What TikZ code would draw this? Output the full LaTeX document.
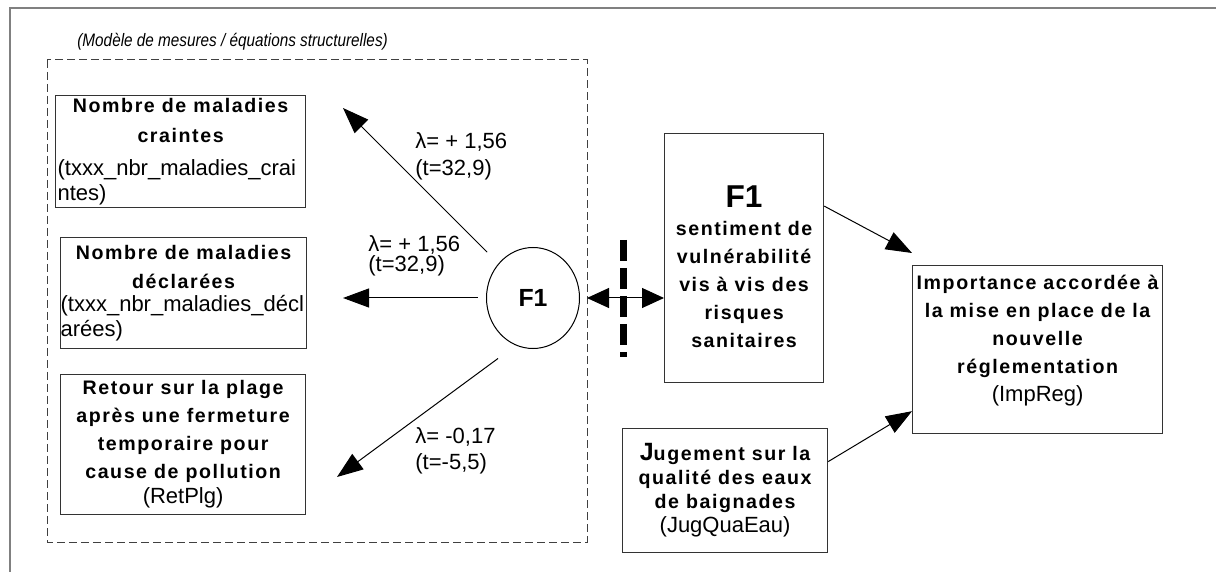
\documentclass[tikz,border=0pt]{standalone}
\usepackage{fontspec}
\setmainfont{Liberation Sans}
\newfontfamily\spaced[LetterSpace=8]{Liberation Sans}
\newfontfamily\narrow[FakeStretch=0.85]{Liberation Sans}
\usetikzlibrary{arrows.meta,shapes.geometric}

\newcommand{\bsp}{\spaced\bfseries\fontsize{9.8}{14}\selectfont}
\newcommand{\rsm}{\normalfont\fontsize{11}{13}\selectfont}
\newcommand{\itsm}{\narrow\itshape\fontsize{9}{10}\selectfont}
\newcommand{\reg}[1]{{\rsm #1}}
\newcommand{\regl}[1]{\makebox[123pt][l]{\rsm #1}}

\begin{document}
\begin{tikzpicture}[x=0.5pt,y=-0.5pt]
	\path [use as bounding box] (0,0) rectangle (1216,572);
	\tikzstyle{every node} = [inner sep=0pt]
	\tikzstyle{box} = [draw=black!80, line width=0.6pt, align=center, font=\bsp]
	\tikzstyle{load} = [-{Triangle[length=13pt,width=9.5pt]}, line width=0.5pt]
	\tikzstyle{both} = [{Triangle[length=11pt,width=10pt]}-{Triangle[length=11pt,width=10pt]}, line width=0.5pt]
	\tikzstyle{lam} = [anchor=north west, align=left, font=\rsm]
	\draw [line width=0.9pt, black!50] (10,600) |- (1240,8);
	\node [anchor=west, font=\itsm] (titre) at (77,42) {(Modèle de mesures / équations structurelles)};
	\draw [black!75, line width=0.5pt, dash pattern=on 4pt off 2pt] (47,60) rectangle (587,542);
	% measures
	\node [box, anchor=north west, minimum width=125pt, minimum height=56pt] (craintes) at (55,95)
		{Nombre de maladies\\[1pt]craintes\\[2.5pt]\regl{(txxx\_nbr\_maladies\_crai}\\[-1.5pt]\regl{ntes)}};
	\node [box, anchor=north west, minimum width=122.5pt, minimum height=55.5pt] (declarees) at (60,237)
		{Nombre de maladies\\[0.5pt]déclarées\\[-2.5pt]\regl{(txxx\_nbr\_maladies\_décl}\\[-1.5pt]\regl{arées)}};
	\node [box, anchor=north west, minimum width=122.5pt, minimum height=70pt] (retour) at (60,374)
		{Retour sur la plage\\après une fermeture\\temporaire pour\\cause de pollution\\[-1.5pt]\reg{(RetPlg)}};
	\node [draw, ellipse, line width=0.5pt, minimum width=46.5pt, minimum height=50.5pt,
		font=\normalfont\bfseries\fontsize{12.4}{14}\selectfont] (circ) at (533,298) {F1};
	\coordinate (tipA) at (343,108);
	\coordinate (tipB) at (343,298);
	\coordinate (tipC) at (337,477);
	\draw [load, shorten <=8pt] (circ.135) -- (tipA);
	\draw [load, shorten <=4.25pt] (circ.west) -- (tipB);
	\draw [load, shorten <=11pt] (circ.250) -- (tipC);
	\node [lam] (lamA) at (415,132) {λ= + 1,56\\[0.5pt](t=32,9)};
	\node [lam] (lamB) at (368,235) {λ= + 1,56\\[-3pt](t=32,9)};
	\node [lam] (lamC) at (415,427) {λ= -0,17\\(t=-5,5)};
	% structural part
	\node [box, anchor=north west, minimum width=79.5pt, minimum height=124.5pt] (sent) at (664,133)
		{\rule{0pt}{19pt}{\normalfont\bfseries\fontsize{15.8}{18}\selectfont F1}\\sentiment de\\vulnérabilité\\vis à vis des\\risques\\sanitaires};
	\node [box, anchor=north west, minimum width=125pt, minimum height=84pt] (imp) at (912,265)
		{Importance accordée à\\la mise en place de la\\nouvelle\\réglementation\\\reg{(ImpReg)}\rule[-11pt]{0pt}{0pt}};
	\node [box, anchor=north west, minimum width=102.5pt, minimum height=62pt] (jug) at (622,428)
		{{\fontsize{12.5}{14}\selectfont J}ugement sur la\\[-2pt]qualité des eaux\\[-2pt]de baignades\\[-2pt]\reg{(JugQuaEau)}};
	\draw [line width=3.5pt, dash pattern=on 10.5pt off 3.5pt] (623,240) -- (623,357);
	\draw [both, shorten <=3.5pt] (circ.east) -- (circ.east -| sent.west);
	\draw [load] ([yshift=26pt]sent.east) -- ([yshift=6pt]imp.north west);
	\draw [load] ([yshift=14.5pt]jug.east) -- ([yshift=11.5pt]imp.south west);
\end{tikzpicture}
\end{document}
